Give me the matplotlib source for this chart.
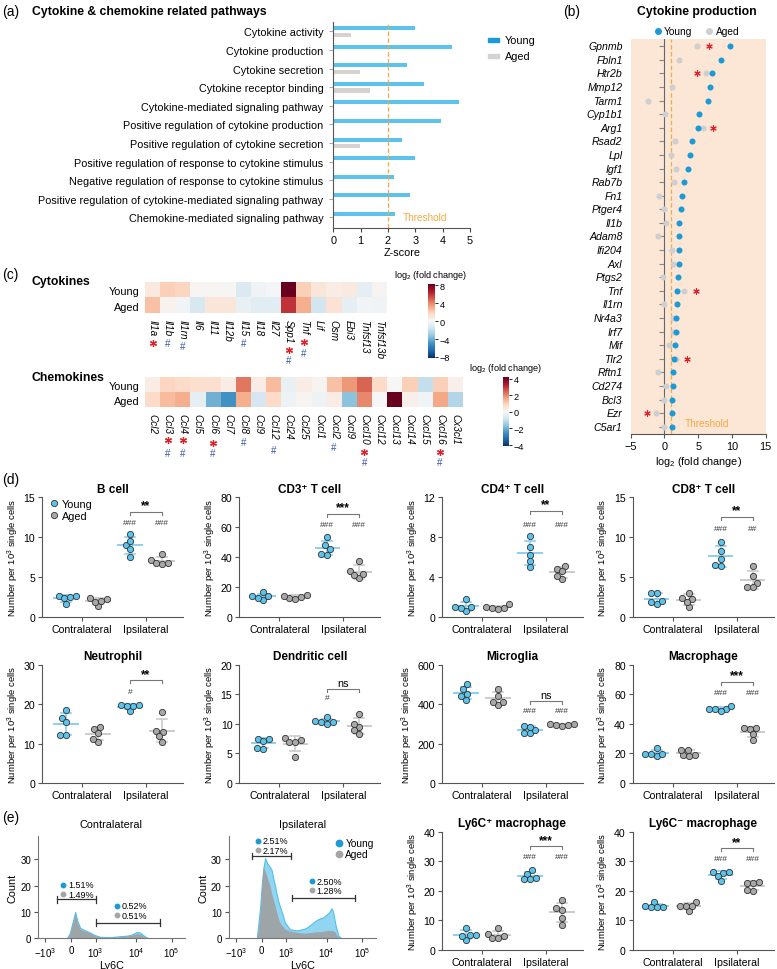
import numpy as np
import matplotlib
matplotlib.use('Agg')
import matplotlib.pyplot as plt
import matplotlib.transforms as mtransforms
from matplotlib.lines import Line2D
from matplotlib.patches import Rectangle

plt.rcParams['font.family'] = ['Liberation Sans', 'DejaVu Sans']
plt.rcParams['mathtext.fontset'] = 'custom'
plt.rcParams['mathtext.rm'] = 'Liberation Sans'
plt.rcParams['mathtext.it'] = 'Liberation Sans:italic'
plt.rcParams['mathtext.bf'] = 'Liberation Sans:bold'
plt.rcParams['axes.linewidth'] = 0.8

W, H = 777, 970

# ---------------- data ----------------
# (a) pathway z-scores
pathways = ['Cytokine activity', 'Cytokine production', 'Cytokine secretion',
            'Cytokine receptor binding', 'Cytokine-mediated signaling pathway',
            'Positive regulation of cytokine production',
            'Positive regulation of cytokine secretion',
            'Positive regulation of response to cytokine stimulus',
            'Negative regulation of response to cytokine stimulus',
            'Positive regulation of cytokine-mediated signaling pathway',
            'Chemokine-mediated signaling pathway']
young_z = [3.0, 4.35, 2.68, 3.31, 4.59, 3.95, 2.53, 3.0, 2.23, 2.81, 2.25]
aged_z = [0.63, 0, 0.99, 1.33, 0, 0, 0.99, 0, 0, 0, 0]

# (b) cytokine production genes, log2 fold change
genes = ['Gpnmb', 'Fbln1', 'Htr2b', 'Mmp12', 'Tarm1', 'Cyp1b1', 'Arg1', 'Rsad2',
         'Lpl', 'Igf1', 'Rab7b', 'Fn1', 'Ptger4', 'Il1b', 'Adam8', 'Ifi204', 'Axl',
         'Ptgs2', 'Tnf', 'Il1rn', 'Nr4a3', 'Irf7', 'Mif', 'Tlr2', 'Rftn1', 'Cd274',
         'Bcl3', 'Ezr', 'C5ar1']
young_fc = [9.7, 8.4, 7.0, 6.7, 6.4, 5.1, 4.9, 4.1, 3.75, 3.55, 2.9, 2.65, 2.4,
            2.2, 2.2, 2.2, 2.1, 1.95, 1.8, 1.8, 1.75, 1.7, 1.55, 1.4, 1.3, 1.2,
            1.15, 1.1, 1.1]
aged_fc = [4.8, 2.2, 6.2, 1.1, -2.4, 0.1, 5.7, 1.5, 1.0, 1.7, 1.45, -0.8, 0.0,
           0.3, -0.9, 1.05, 1.2, -0.2, 2.9, 0.0, 1.2, 1.2, 0.65, 1.7, -0.9, 0.3,
           0.0, -1.3, 0.0]
star_genes = ['Gpnmb', 'Htr2b', 'Arg1', 'Tnf', 'Tlr2', 'Ezr']
star_fc = [6.6, 4.75, 7.2, 4.6, 3.35, -2.65]

# (c) heatmaps
cyto_genes = ['Il1a', 'Il1b', 'Il1rn', 'Il6', 'Il11', 'Il12b', 'Il15', 'Il18', 'Il27',
              'Spp1', 'Tnf', 'Lif', 'Osm', 'Ebi3', 'Tnfsf13', 'Tnfsf13b']
cyto_young = [0.8, 2.0, 1.8, 0.1, 0.1, 0.1, -1.2, -0.3, -0.1, 8.3, 2.0, 1.0, 0.6,
              0.8, -0.8, 0.2]
cyto_aged = [2.4, 0.3, -0.2, -1.3, 1.0, 1.0, -0.6, -0.9, -0.9, 6.0, 3.0, -1.5, 1.2,
             -0.8, -0.2, -0.3]
# markers: (column, symbol, px below heatmap)
cyto_marks = [('Il1a', '*', 30), ('Il1b', '#', 30), ('Il1rn', '#', 33), ('Il15', '#', 30),
              ('Spp1', '*', 37), ('Spp1', '#', 47), ('Tnf', '*', 29), ('Tnf', '#', 40)]

chemo_genes = ['Ccl2', 'Ccl3', 'Ccl4', 'Ccl5', 'Ccl6', 'Ccl7', 'Ccl8', 'Ccl9', 'Ccl12',
               'Ccl24', 'Ccl25', 'Cxcl1', 'Cxcl2', 'Cxcl9', 'Cxcl10', 'Cxcl12', 'Cxcl13',
               'Cxcl14', 'Cxcl15', 'Cxcl16', 'Cx3cl1']
chemo_young = [0.3, 0.9, 0.8, 0.7, 0.7, 0.3, 2.2, 0.3, 1.3, -0.3, 0.3, 0.1, 1.2, 1.8,
               2.4, 0.8, 0.0, 1.0, -1.0, 1.0, 0.2]
chemo_aged = [0.8, 1.3, 1.5, -0.4, -2.0, -2.5, 1.5, -0.7, 0.8, -0.2, 0.1, -0.2, 0.3,
              -1.7, 2.0, 0.0, 4.2, 0.2, -0.1, 1.6, -1.2]
chemo_marks = [('Ccl3', '*', 33), ('Ccl3', '#', 46), ('Ccl4', '*', 33), ('Ccl4', '#', 46),
               ('Ccl6', '*', 36), ('Ccl6', '#', 46), ('Ccl8', '#', 35), ('Ccl12', '#', 43),
               ('Cxcl2', '#', 40), ('Cxcl10', '*', 45), ('Cxcl10', '#', 55),
               ('Cxcl16', '*', 45), ('Cxcl16', '#', 55)]

# (d)/(e) cell counts per 10^3 single cells:
# [contra young, contra aged, ipsi young, ipsi aged]
b_cell = [[2.5, 2.6, 1.6, 2.3, 2.6], [1.3, 2.3, 2.2, 1.9, 2.0],
          [10.4, 9.0, 9.5, 8.5, 7.5], [7.9, 7.1, 6.6, 6.8, 6.8]]
cd3_t = [[16.5, 14.0, 11.2, 12.6, 13.6], [12.5, 14.5, 14.0, 13.3, 12.0],
         [53.6, 41.6, 45.2, 47.8, 42.3], [37.3, 25.6, 30.3, 27.8, 28.5]]
cd4_t = [[0.6, 1.75, 1.0, 0.9, 0.95], [0.85, 1.25, 0.95, 0.85, 0.8],
         [8.1, 7.0, 6.2, 5.6, 5.0], [5.1, 4.8, 4.6, 3.8, 4.05]]
cd8_t = [[1.6, 2.0, 3.0, 3.0, 1.8], [1.2, 2.4, 2.2, 3.0, 1.9],
         [9.4, 8.25, 7.3, 6.4, 6.5], [6.4, 5.1, 4.2, 3.7, 3.7]]
neutrophil = [[18.6, 16.5, 15.4, 12.2, 12.2], [14.3, 13.7, 12.6, 10.5, 11.2],
              [18.3, 19.8, 19.6, 19.5, 19.7], [18.0, 13.0, 13.1, 10.5, 11.8]]
dendritic = [[7.5, 7.5, 7.1, 5.8, 5.9], [7.6, 7.2, 6.9, 6.9, 4.4],
             [11.1, 10.0, 10.3, 10.3, 10.4], [11.7, 9.4, 9.9, 8.3, 8.9]]
microglia = [[500, 423, 452, 440, 475], [477, 398, 443, 413, 413],
             [291, 252, 270, 283, 252], [290, 300, 300, 292, 295]]
macrophage = [[23.8, 18.1, 19.7, 19.8, 19.6], [18.6, 22.4, 22.0, 18.8, 18.1],
              [50.0, 52.3, 50.3, 49.9, 48.6], [37.2, 37.3, 36.3, 32.9, 28.8]]
ly6c_pos = [[7.4, 5.1, 3.5, 4.9, 5.1], [7.3, 3.9, 5.4, 4.8, 3.9],
            [27.1, 25.7, 24.0, 24.0, 24.3], [16.9, 13.6, 14.1, 10.7, 8.6]]
ly6c_neg = [[16.2, 14.7, 14.4, 15.0, 14.5], [16.3, 13.3, 15.0, 15.0, 15.0],
            [26.5, 26.3, 26.0, 24.9, 23.2], [22.7, 22.7, 23.1, 20.1, 20.4]]

# (e) Ly6C histograms: position on display scale, counts
hist_u_contra = [-0.11, -0.03, 0.04, 0.11, 0.17, 0.24, 0.37, 0.5, 0.63, 0.76, 1.03,
                 1.29, 1.47, 1.6, 1.73, 1.82, 1.9, 1.99, 2.08]
contra_young = [0, 2, 6, 10, 6.5, 4, 3, 2.2, 1.2, 0.6, 0.4, 0.8, 1.0, 1.4, 2.4, 2.2,
                1.2, 0.3, 0]
contra_aged = [0, 1.5, 5.5, 9.2, 6, 3.5, 2.8, 2, 1, 0.5, 0.3, 0.6, 0.9, 1.2, 1.8, 1.6,
               0.8, 0.2, 0]
hist_u_ipsi = [-0.13, -0.09, -0.04, 0.0, 0.04, 0.09, 0.13, 0.17, 0.22, 0.26, 0.3, 0.35,
               0.39, 0.44, 0.48, 0.53, 0.61, 0.74, 0.83, 0.92, 1.09, 1.18, 1.27, 1.45,
               1.53, 1.62, 1.75, 1.8, 1.84, 1.88, 1.93, 1.96, 2.02, 2.1]
ipsi_young = [0, 5, 12, 20, 26, 30.5, 29, 28, 27, 26, 23, 20, 17, 14, 12, 10, 6, 3.5,
              3.2, 3, 3.5, 4, 5, 7, 7.5, 8, 9.5, 10.5, 11.4, 10, 6, 4, 1, 0]
ipsi_aged = [0, 3, 10, 20, 27.5, 25.5, 24, 22, 20, 17, 15, 12.5, 10, 7.5, 6, 5, 3.5, 2.8,
             2.5, 2.3, 2, 2, 2.2, 2.5, 2.5, 2.7, 3, 3, 3, 2.8, 2.5, 1.5, 0.5, 0]

# ---------------- helpers ----------------
fig = plt.figure(figsize=(W / 100, H / 100), dpi=100)


def px_axes(x0, y0, x1, y1):
    return fig.add_axes([x0 / W, 1 - y1 / H, (x1 - x0) / W, (y1 - y0) / H])


def ftext(x, y, s, **kw):
    fig.text(x / W, 1 - y / H, s, **kw)


C_ORANGE = '#f5a843'
C_BLUE = '#5bc3ec'
C_BLUE_D = '#1b9ad6'
C_GRAY = '#a9a7a7'
C_RED = '#e3202a'
C_HASH = '#3a57a8'

# ---------------- (a) ----------------
ftext(2, 12, '(a)', fontsize=10, va='center')
ftext(31.5, 12, 'Cytokine & chemokine related pathways', fontsize=8.8,
      fontweight='bold', va='center')
ax = px_axes(333.3, 22.7, 470, 229.3)
yy = np.arange(len(pathways))
ax.barh(yy - 0.18, young_z, height=0.22, color=C_BLUE)
ax.barh(yy + 0.18, aged_z, height=0.22, color='#d6d2d2')
ax.axvline(2, color=C_ORANGE, lw=0.9, ls=(0, (3.5, 2)))
ax.text(2.55, 10, 'Threshold', color=C_ORANGE, fontsize=7.2, va='center')
ax.set_xlim(0, 5)
ax.set_ylim(10.59, -0.52)
ax.set_yticks(yy)
ax.set_yticklabels(pathways, fontsize=7.8)
ax.set_xticks(range(6))
ax.tick_params(axis='y', length=3, color='#aaaaaa', pad=4)
ax.tick_params(axis='x', labelsize=7.8, length=3, color='#444444', pad=2)
ax.set_xlabel('Z-score', fontsize=7.8, labelpad=1)
for s in ['top', 'right']:
    ax.spines[s].set_visible(False)
for s in ['left', 'bottom']:
    ax.spines[s].set_color('#555555')
fig.add_artist(Rectangle((488 / W, 1 - 42.5 / H), 10.5 / W, 3.8 / H, color=C_BLUE_D,
                         transform=fig.transFigure))
fig.add_artist(Rectangle((488 / W, 1 - 59 / H), 10.5 / W, 3.8 / H, color='#d6d2d2',
                         transform=fig.transFigure))
ftext(505, 40.7, 'Young', fontsize=7.8, va='center')
ftext(505, 57.3, 'Aged', fontsize=7.8, va='center')

# ---------------- (b) ----------------
ftext(563, 12, '(b)', fontsize=10, va='center')
ftext(697, 12, 'Cytokine production', fontsize=8.8, fontweight='bold', va='center',
      ha='center')
ax = px_axes(630.7, 40, 765.7, 435)
ax.set_facecolor('#fce7d6')
gy = np.arange(len(genes))
ax.axvline(1, color=C_ORANGE, lw=0.9, ls=(0, (3.5, 2)), zorder=1)
ax.scatter(aged_fc, gy, s=19, color='#cfcfcf', lw=0, zorder=3)
ax.scatter(young_fc, gy, s=19, color=C_BLUE_D, lw=0, zorder=4)
ax.scatter(star_fc, [genes.index(g) for g in star_genes], marker=(6, 2, 0), s=16,
           color=C_RED, lw=0.8, zorder=5)
ax.text(3.0, len(genes) - 1.3, 'Threshold', color=C_ORANGE, fontsize=7.2, va='center')
ax.set_xlim(-5, 15)
ax.set_ylim(len(genes) - 0.47, -0.53)
ax.spines['left'].set_position(('data', 0))
ax.spines['left'].set_color('#666666')
ax.spines['bottom'].set_color('#555555')
for s in ['top', 'right']:
    ax.spines[s].set_visible(False)
ax.set_yticks(gy)
ax.set_yticklabels([])
ax.tick_params(axis='y', length=3.5, color='#888888')
ax.set_xticks([-5, 0, 5, 10, 15])
ax.tick_params(axis='x', labelsize=7.8, length=3, color='#555555', pad=2)
ax.set_xlabel('log$_2$ (fold change)', fontsize=7.8, labelpad=2)
ytr = mtransforms.blended_transform_factory(ax.transAxes, ax.transData)
for i, g in enumerate(genes):
    ax.text(-0.06, i, g, transform=ytr, ha='right', va='center', fontsize=7.6,
            style='italic')
fig.add_artist(Line2D([657.7 / W], [1 - 31.7 / H], marker='o', ms=4, color=C_BLUE_D,
                      lw=0, transform=fig.transFigure))
fig.add_artist(Line2D([709 / W], [1 - 31.7 / H], marker='o', ms=4, color='#cfcfcf',
                      lw=0, transform=fig.transFigure))
ftext(664, 31.7, 'Young', fontsize=7.3, va='center')
ftext(715.5, 31.7, 'Aged', fontsize=7.3, va='center')

# ---------------- (c) ----------------
ftext(2, 275, '(c)', fontsize=10, va='center')
ftext(32, 282, 'Cytokines', fontsize=8.8, fontweight='bold', va='center')
ftext(32, 378.5, 'Chemokines', fontsize=8.8, fontweight='bold', va='center')


def heatmap(box, cbox, names, young, aged, vlim, ticks, marks, label_y):
    ax = px_axes(*box)
    im = ax.imshow(np.array([young, aged]), cmap='RdBu_r', vmin=-vlim, vmax=vlim,
                   aspect='auto')
    ax.set_xticks(range(len(names)))
    ax.set_xticklabels(names, rotation=270, fontsize=7.2, style='italic', va='top')
    ax.set_yticks([0, 1])
    ax.set_yticklabels(['Young', 'Aged'], fontsize=7.8)
    ax.tick_params(length=0, pad=4)
    for s in ax.spines.values():
        s.set_visible(False)
    for name, sym, dy in marks:
        tr = mtransforms.offset_copy(ax.transData, fig=fig, x=0, y=-dy, units='dots')
        col = names.index(name)
        if sym == '*':
            ax.plot([col], [1.5], marker=(6, 2, 0), ms=5, mew=0.9, color=C_RED,
                    transform=tr, clip_on=False)
        else:
            ax.text(col, 1.5, '#', color=C_HASH, fontsize=7, ha='center',
                    va='center', transform=tr)
    cax = px_axes(*cbox)
    cb = fig.colorbar(im, cax=cax, ticks=ticks)
    cb.outline.set_visible(False)
    cax.tick_params(labelsize=6.6, length=2, width=0.6, pad=1.5)
    ftext((cbox[0] + cbox[2]) / 2, label_y, 'log$_2$ (fold change)', fontsize=6.6,
          ha='center', va='center')


heatmap((145, 283.3, 386.7, 314.3), (427.5, 285, 434.5, 359.3), cyto_genes, cyto_young,
        cyto_aged, 8.3, [8, 4, 0, -4, -8], cyto_marks, 275.7)
heatmap((145, 378.3, 462.7, 408.3), (502.5, 378.3, 509, 447.3), chemo_genes,
        chemo_young, chemo_aged, 4.15, [4, 2, 0, -2, -4], chemo_marks, 369)

# ---------------- (d) & (e) scatter panels ----------------
ftext(2, 480, '(d)', fontsize=10, va='center')
ftext(2, 818, '(e)', fontsize=10, va='center')

PPX = 32.0  # px per x unit
col_p1 = [66, 263.3, 466, 656.7]


def swarm(vals, ppy, diam=5.8):
    vals = np.asarray(vals, float)
    offs = np.zeros(len(vals))
    placed = []
    cand = sorted(np.arange(-14, 14.5, 0.5), key=lambda c: (abs(c), c))
    for i in np.argsort(vals):
        yi = vals[i] * ppy
        for c in cand:
            if all((c - ox) ** 2 + (yi - oy) ** 2 >= diam ** 2 for ox, oy in placed):
                offs[i] = c
                placed.append((c, yi))
                break
    return offs / PPX


def dot_panel(col, ytop, ybot, title, groups, yticks, hashes, hash_y, br_y, sig,
              legend=False):
    p1 = col_p1[col]
    ax = px_axes(p1 - 24, ytop, p1 - 24 + 4.4 * PPX, ybot)
    ymax = yticks[-1]
    ppy = (ybot - ytop) / ymax
    for k, vals in enumerate(groups):
        x0 = k + 1
        young = k % 2 == 0
        lc = '#8ccff0' if young else '#cbcbcb'
        fc = C_BLUE if young else C_GRAY
        m, sd = np.mean(vals), np.std(vals, ddof=1)
        ax.plot([x0 - 0.36, x0 + 0.36], [m, m], color=lc, lw=1.4, zorder=1)
        ax.plot([x0, x0], [m - sd, m + sd], color=lc, lw=1.2, zorder=1)
        for yv in (m - sd, m + sd):
            ax.plot([x0 - 0.16, x0 + 0.16], [yv, yv], color=lc, lw=1.2, zorder=1)
        ax.plot(x0 + swarm(vals, ppy), vals, 'o', ms=4.5, mfc=fc, mec='#333333',
                mew=0.6, lw=0, zorder=3, clip_on=False)
    for x0, h in zip([3, 4], hashes):
        ax.text(x0, hash_y, h, fontsize=6, ha='center', va='center', color='#333333')
    tick = ymax * 0.025
    ax.plot([3, 3, 4, 4], [br_y - tick, br_y, br_y, br_y - tick], color='#777777',
            lw=0.8)
    ax.text(3.5, br_y + ymax * 0.005, sig, ha='center', va='bottom',
            fontsize=7.8 if sig == 'ns' else 8.5,
            fontweight='normal' if sig == 'ns' else 'bold')
    ax.set_xlim(0.25, 4.65)
    ax.set_ylim(0, ymax)
    ax.set_yticks(yticks)
    ax.set_xticks([1.5, 3.5])
    ax.set_xticklabels(['Contralateral', 'Ipsilateral'])
    ax.tick_params(labelsize=7.6, length=3, color='#555555', width=0.8, pad=2)
    for s in ['top', 'right']:
        ax.spines[s].set_visible(False)
    for s in ['left', 'bottom']:
        ax.spines[s].set_color('#555555')
    ax.set_ylabel('Number per 10$^3$ single cells', fontsize=6.8, labelpad=2)
    ax.set_title(title, fontsize=8.5, fontweight='bold', pad=4)
    if legend:
        hs = [Line2D([], [], marker='o', ls='', ms=4.5, mfc=C_BLUE, mec='#333333',
                     mew=0.6),
              Line2D([], [], marker='o', ls='', ms=4.5, mfc=C_GRAY, mec='#333333',
                     mew=0.6)]
        ax.legend(hs, ['Young', 'Aged'], loc='upper left', bbox_to_anchor=(0.04, 0.985),
                  frameon=False, fontsize=7.8, handletextpad=0.1, labelspacing=0.15,
                  borderpad=0, handlelength=1.2, borderaxespad=0)
    return ax


R1, R2, R3 = (498.3, 617.7), (665.7, 784), (832.7, 951)
dot_panel(0, *R1, 'B cell', b_cell, [0, 5, 10, 15], ['###', '###'], 11.8, 13.2, '**',
          legend=True)
dot_panel(1, *R1, 'CD3⁺ T cell', cd3_t, [0, 20, 40, 60, 80], ['###', '###'], 61.8, 69,
          '***')
dot_panel(2, *R1, 'CD4⁺ T cell', cd4_t, [0, 4, 8, 12], ['###', '###'], 9.3, 10.6, '**')
dot_panel(3, *R1, 'CD8⁺ T cell', cd8_t, [0, 5, 10, 15], ['###', '##'], 11.05, 12.5, '**')
dot_panel(0, *R2, 'Neutrophil', neutrophil, [0, 10, 20, 30], ['#', ''], 23.3, 26, '**')
dot_panel(1, *R2, 'Dendritic cell', dendritic, [0, 5, 10, 15, 20], ['#', ''], 14.4, 15.9,
          'ns')
dot_panel(2, *R2, 'Microglia', microglia, [0, 200, 400, 600], ['###', '###'], 367, 418,
          'ns')
dot_panel(3, *R2, 'Macrophage', macrophage, [0, 20, 40, 60, 80], ['###', '###'], 61,
          68.5, '***')
dot_panel(2, *R3, 'Ly6C⁺ macrophage', ly6c_pos, [0, 10, 20, 30, 40], ['###', '###'],
          31.5, 35, '***')
dot_panel(3, *R3, 'Ly6C⁻ macrophage', ly6c_neg, [0, 10, 20, 30, 40], ['###', '###'],
          31.0, 34.4, '**')

# ---------------- (e) histograms ----------------
hx_ticks = [-0.68, 0, 0.65, 1.71, 2.65]
hx_labels = ['$-10^3$', '0', '$10^3$', '$10^4$', '$10^5$']


def hist_panel(zero_px, title, u, young, aged, gates, pcts, legend=False):
    ax = px_axes(zero_px - 0.87 * 38, 836.7, zero_px + 3.0 * 38, 939.3)
    ax.fill_between(u, young, color='#90d5f2', lw=0.8, ec='#55bfe9', zorder=1)
    ax.fill_between(u, aged, color='#a0a0a0', alpha=0.9, lw=0, zorder=2)
    for (g0, g1, gy) in gates:
        ax.plot([g0, g1], [gy, gy], color='#333333', lw=0.9)
        for gx in (g0, g1):
            ax.plot([gx, gx], [gy - 1.3, gy + 1.3], color='#333333', lw=0.9)
    for (px, py, t1, t2) in pcts:
        ax.plot([px], [py], 'o', ms=3.2, color=C_BLUE_D)
        ax.plot([px], [py - 3.5], 'o', ms=3.2, color='#a5a5a5')
        ax.text(px + 0.12, py, t1, fontsize=6.5, va='center')
        ax.text(px + 0.12, py - 3.5, t2, fontsize=6.5, va='center')
    if legend:
        ax.plot([2.04], [36.1], 'o', ms=4.6, color=C_BLUE_D)
        ax.plot([2.04], [32.0], 'o', ms=4.6, color='#a5a5a5')
        ax.text(2.2, 36.1, 'Young', fontsize=7.3, va='center')
        ax.text(2.2, 32.0, 'Aged', fontsize=7.3, va='center')
    ax.set_xlim(-0.87, 3.0)
    ax.set_ylim(0, 39)
    ax.set_yticks([0, 10, 20, 30])
    ax.set_xticks(hx_ticks)
    ax.set_xticklabels(hx_labels)
    ax.tick_params(labelsize=7, length=3, color='#555555', width=0.8, pad=2)
    for s in ['top', 'right']:
        ax.spines[s].set_visible(False)
    for s in ['left', 'bottom']:
        ax.spines[s].set_color('#777777')
    ax.set_ylabel('Count', fontsize=7.8, labelpad=2)
    ax.set_xlabel('Ly6C', fontsize=7.8, labelpad=1)
    ax.set_title(title, fontsize=7.8, pad=6)


hist_panel(71, 'Contralateral', hist_u_contra, contra_young, contra_aged,
           [(-0.38, 0.65, 14.8), (0.67, 2.35, 5.9)],
           [(-0.2, 20.3, '1.51%', '1.49%'), (1.2, 12.3, '0.52%', '0.51%')])
hist_panel(261.7, 'Ipsilateral', hist_u_ipsi, ipsi_young, ipsi_aged,
           [(-0.26, 0.77, 31.3), (0.79, 2.46, 15.3)],
           [(-0.09, 37.0, '2.51%', '2.17%'), (1.32, 21.7, '2.50%', '1.28%')],
           legend=True)

fig.savefig('out.png', dpi=100)
